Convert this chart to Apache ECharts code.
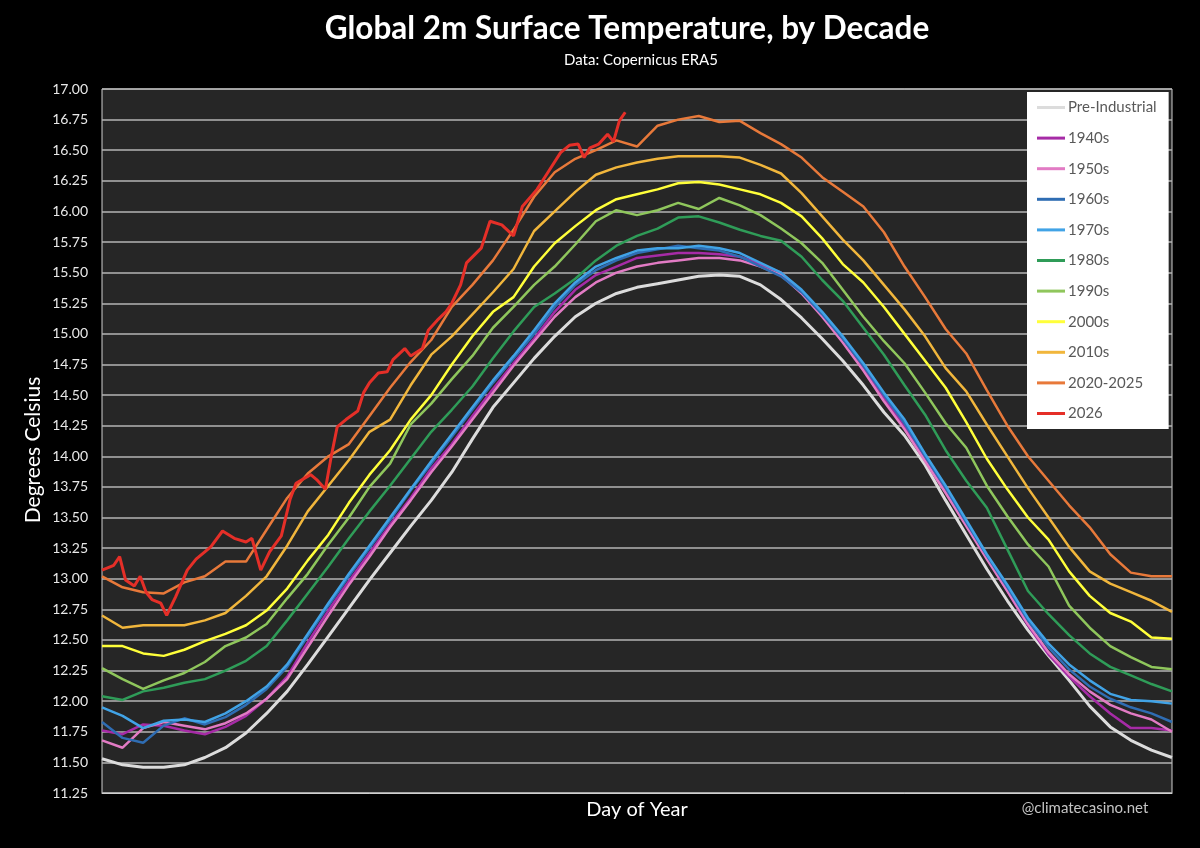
<!DOCTYPE html>
<html>
<head>
<meta charset="utf-8">
<script src="https://cdn.jsdelivr.net/npm/echarts@6/dist/echarts.min.js"></script>
<style>
html, body { margin: 0; padding: 0; background: #000; }
#chart { width: 1200px; height: 848px; }
</style>
</head>
<body>
<div id="chart"></div>
<script>
// day of year sampled weekly
const days = [1, 8, 15, 22, 29, 36, 43, 50, 57, 64, 71, 78, 85, 92, 99, 106, 113, 120, 127, 134,
    141, 148, 155, 162, 169, 176, 183, 190, 197, 204, 211, 218, 225, 232, 239, 246, 253, 260, 267,
    274, 281, 288, 295, 302, 309, 316, 323, 330, 337, 344, 351, 358, 365];

const preIndustrial = [11.53, 11.48, 11.46, 11.46, 11.48, 11.54, 11.62, 11.74, 11.90, 12.08, 12.30, 12.53, 12.76, 12.99,
    13.21, 13.43, 13.64, 13.87, 14.14, 14.40, 14.60, 14.80, 14.98, 15.14, 15.25, 15.33, 15.38, 15.41, 15.44, 15.47,
    15.48, 15.47, 15.40, 15.28, 15.13, 14.96, 14.78, 14.58, 14.36, 14.17, 13.93, 13.64, 13.36, 13.08, 12.82, 12.58,
    12.37, 12.17, 11.96, 11.79, 11.68, 11.60, 11.54];
const d1940s = [11.76, 11.73, 11.81, 11.80, 11.76, 11.73, 11.79, 11.88, 12.02, 12.20, 12.48, 12.74, 12.98, 13.21,
    13.44, 13.66, 13.90, 14.10, 14.33, 14.55, 14.76, 14.96, 15.18, 15.36, 15.48, 15.55, 15.62, 15.64, 15.66, 15.66,
    15.65, 15.63, 15.57, 15.50, 15.35, 15.17, 14.97, 14.73, 14.48, 14.24, 13.98, 13.72, 13.45, 13.18, 12.90, 12.62,
    12.38, 12.20, 12.04, 11.90, 11.78, 11.78, 11.76];
const d1950s = [11.68, 11.62, 11.78, 11.83, 11.80, 11.77, 11.82, 11.90, 12.02, 12.18, 12.44, 12.70, 12.95, 13.18,
    13.42, 13.64, 13.87, 14.08, 14.30, 14.52, 14.74, 14.94, 15.14, 15.30, 15.42, 15.50, 15.55, 15.58, 15.60, 15.62,
    15.62, 15.60, 15.55, 15.48, 15.33, 15.14, 14.93, 14.70, 14.45, 14.22, 13.96, 13.70, 13.43, 13.16, 12.90, 12.63,
    12.40, 12.22, 12.08, 11.97, 11.90, 11.85, 11.75];
const d1960s = [11.83, 11.70, 11.66, 11.80, 11.86, 11.81, 11.87, 11.97, 12.10, 12.28, 12.53, 12.78, 13.02, 13.25,
    13.48, 13.72, 13.94, 14.16, 14.38, 14.60, 14.80, 15.00, 15.22, 15.40, 15.52, 15.60, 15.66, 15.69, 15.72, 15.70,
    15.68, 15.63, 15.55, 15.47, 15.34, 15.16, 14.96, 14.74, 14.50, 14.27, 14.00, 13.74, 13.46, 13.19, 12.93, 12.66,
    12.44, 12.26, 12.12, 12.02, 11.95, 11.90, 11.83];
const d1970s = [11.95, 11.88, 11.78, 11.84, 11.85, 11.83, 11.90, 12.00, 12.12, 12.30, 12.55, 12.80, 13.04, 13.27,
    13.50, 13.73, 13.96, 14.18, 14.40, 14.62, 14.82, 15.03, 15.25, 15.42, 15.55, 15.62, 15.68, 15.70, 15.70, 15.72,
    15.70, 15.66, 15.58, 15.50, 15.36, 15.18, 14.98, 14.76, 14.52, 14.30, 14.02, 13.76, 13.48, 13.20, 12.95, 12.68,
    12.47, 12.30, 12.17, 12.06, 12.01, 12.00, 11.98];
const d1980s = [12.04, 12.01, 12.08, 12.11, 12.15, 12.18, 12.25, 12.33, 12.45, 12.66, 12.88, 13.10, 13.33, 13.55,
    13.76, 13.98, 14.20, 14.38, 14.57, 14.80, 15.02, 15.22, 15.33, 15.45, 15.60, 15.72, 15.80, 15.86, 15.95, 15.96,
    15.91, 15.85, 15.80, 15.76, 15.63, 15.44, 15.27, 15.05, 14.83, 14.58, 14.34, 14.05, 13.80, 13.58, 13.24, 12.90,
    12.71, 12.54, 12.39, 12.28, 12.21, 12.14, 12.08];
const d1990s = [12.27, 12.18, 12.10, 12.17, 12.23, 12.32, 12.45, 12.52, 12.63, 12.84, 13.04, 13.28, 13.50, 13.75,
    13.94, 14.26, 14.43, 14.63, 14.82, 15.05, 15.22, 15.40, 15.55, 15.73, 15.92, 16.01, 15.97, 16.01, 16.07, 16.02,
    16.11, 16.05, 15.97, 15.86, 15.74, 15.58, 15.36, 15.14, 14.94, 14.76, 14.52, 14.27, 14.07, 13.76, 13.51, 13.28,
    13.10, 12.78, 12.60, 12.45, 12.36, 12.28, 12.26];
const d2000s = [12.45, 12.45, 12.39, 12.37, 12.42, 12.49, 12.55, 12.62, 12.74, 12.92, 13.15, 13.36, 13.62, 13.85,
    14.05, 14.30, 14.50, 14.75, 14.98, 15.18, 15.30, 15.55, 15.74, 15.88, 16.01, 16.10, 16.14, 16.18, 16.23, 16.24,
    16.22, 16.18, 16.14, 16.07, 15.96, 15.78, 15.57, 15.42, 15.22, 15.00, 14.78, 14.56, 14.28, 13.98, 13.73, 13.50,
    13.32, 13.06, 12.86, 12.72, 12.65, 12.52, 12.51];
const d2010s = [12.70, 12.60, 12.62, 12.62, 12.62, 12.66, 12.72, 12.86, 13.02, 13.27, 13.55, 13.76, 13.97, 14.20,
    14.30, 14.58, 14.83, 14.98, 15.16, 15.34, 15.53, 15.84, 16.00, 16.16, 16.30, 16.36, 16.40, 16.43, 16.45, 16.45,
    16.45, 16.44, 16.38, 16.31, 16.15, 15.96, 15.77, 15.60, 15.40, 15.20, 14.98, 14.72, 14.53, 14.26, 14.00, 13.74,
    13.50, 13.26, 13.06, 12.96, 12.89, 12.82, 12.73];
const d2020s = [13.02, 12.93, 12.89, 12.88, 12.97, 13.02, 13.14, 13.14, 13.40, 13.66, 13.86, 14.00, 14.10, 14.33,
    14.56, 14.77, 14.95, 15.22, 15.40, 15.60, 15.85, 16.12, 16.32, 16.43, 16.50, 16.58, 16.53, 16.70, 16.75, 16.78,
    16.73, 16.74, 16.64, 16.55, 16.44, 16.28, 16.16, 16.04, 15.83, 15.55, 15.30, 15.04, 14.84, 14.54, 14.25, 14.00,
    13.80, 13.60, 13.42, 13.20, 13.05, 13.02, 13.02];

// 2026 is read more densely, it is much noisier
const days2026 = [1, 5, 7, 9, 12, 14, 16, 18, 21, 23, 26, 30, 33, 38, 42, 46, 50, 52, 55, 58, 62, 65, 67, 72, 74,
    77, 79, 81, 84, 88, 90, 92, 95, 98, 100, 104, 106, 110, 112, 115, 118, 120, 123, 125, 130, 133, 137, 141, 144,
    149, 153, 157, 160, 163, 165, 167, 170, 173, 175, 177, 179];
const y2026 = [13.07, 13.11, 13.18, 12.99, 12.94, 13.02, 12.89, 12.83, 12.80, 12.70, 12.85, 13.07, 13.16, 13.26,
    13.39, 13.33, 13.30, 13.33, 13.07, 13.22, 13.35, 13.65, 13.78, 13.85, 13.81, 13.73, 14.00, 14.24, 14.30, 14.37,
    14.52, 14.60, 14.68, 14.69, 14.79, 14.88, 14.82, 14.88, 15.03, 15.11, 15.18, 15.25, 15.40, 15.58, 15.70, 15.92,
    15.89, 15.80, 16.04, 16.18, 16.33, 16.48, 16.54, 16.55, 16.44, 16.52, 16.55, 16.63, 16.57, 16.74, 16.81];

const names = ["Pre-Industrial", "1940s", "1950s", "1960s", "1970s", "1980s", "1990s", "2000s", "2010s", "2020-2025", "2026"];
const colors = ["#dcdcdc", "#a62ba6", "#e27bc4", "#2f6db3", "#41a3e6", "#2f9c58", "#8fc65c", "#ffff3a", "#f1b63c", "#e8793a", "#e52f28"];
const values = [preIndustrial, d1940s, d1950s, d1960s, d1970s, d1980s, d1990s, d2000s, d2010s, d2020s, y2026];

const yTicks = { min: 11.25, max: 17, step: 0.25 };

function pairs(xs, ys) {
    return xs.map((d, i) => [d, ys[i]]);
}

const chart = echarts.init(document.getElementById("chart"), null, { renderer: "canvas" });

const series = names.map((name, i) => ({
    name: name,
    type: "line",
    data: pairs(i === 10 ? days2026 : days, values[i]),
    showSymbol: false,
    smooth: false,
    lineStyle: {
        color: colors[i],
        width: (i === 0 || i === 10) ? 3 : 2.5
    },
    itemStyle: { color: colors[i] },
    z: i === 10 ? 5 : 2
}));

const font = "Lato, 'Open Sans', sans-serif";

chart.setOption({
    backgroundColor: "#000000",
    animation: false,
    textStyle: { fontFamily: font },
    grid: {
        left: 102,
        right: 28,
        top: 89,
        bottom: 55,
        show: true,
        backgroundColor: "#262626",
        borderColor: "#d0d0d0",
        borderWidth: 1
    },
    legend: {
        orient: "vertical",
        left: 1027,
        top: 92,
        backgroundColor: "#ffffff",
        padding: [8, 12, 8, 10],
        itemGap: 15.6,
        itemWidth: 28,
        itemHeight: 3,
        icon: "rect",
        data: names,
        textStyle: {
            color: "#595959",
            fontSize: 15,
            lineHeight: 14,
            fontFamily: font,
            padding: [0, 0, 0, -2]
        }
    },
    xAxis: {
        type: "value",
        min: 1,
        max: 365,
        axisLabel: { show: false },
        axisTick: { show: false },
        splitLine: { show: false },
        axisLine: { lineStyle: { color: "#d0d0d0" } }
    },
    yAxis: {
        type: "value",
        min: yTicks.min,
        max: yTicks.max,
        interval: yTicks.step,
        axisLine: { show: false },
        axisTick: { show: false },
        axisLabel: {
            color: "#e8e8e8",
            fontSize: 14,
            margin: 14,
            formatter: v => v.toFixed(2)
        },
        splitLine: {
            lineStyle: { color: "#b4b4b4", width: 1.5 }
        }
    },
    graphic: [
        {
            type: "text", x: 627, y: 29,
            style: { text: "Global 2m Surface Temperature, by Decade", fill: "#ffffff",
                font: "bold 31.5px " + font, align: "center", verticalAlign: "middle" }
        },
        {
            type: "text", x: 641, y: 60,
            style: { text: "Data: Copernicus ERA5", fill: "#ffffff",
                font: "15px " + font, align: "center", verticalAlign: "middle" }
        },
        {
            type: "text", x: 33, y: 450, rotation: Math.PI / 2,
            style: { text: "Degrees Celsius", fill: "#ffffff",
                font: "21px " + font, align: "center", verticalAlign: "middle" }
        },
        {
            type: "text", x: 637, y: 810,
            style: { text: "Day of Year", fill: "#ffffff",
                font: "20px " + font, align: "center", verticalAlign: "middle" }
        },
        {
            type: "text", x: 1085, y: 808,
            style: { text: "@climatecasino.net", fill: "#c4c4c4",
                font: "15px " + font, align: "center", verticalAlign: "middle" }
        }
    ],
    series: series
});
</script>
</body>
</html>
